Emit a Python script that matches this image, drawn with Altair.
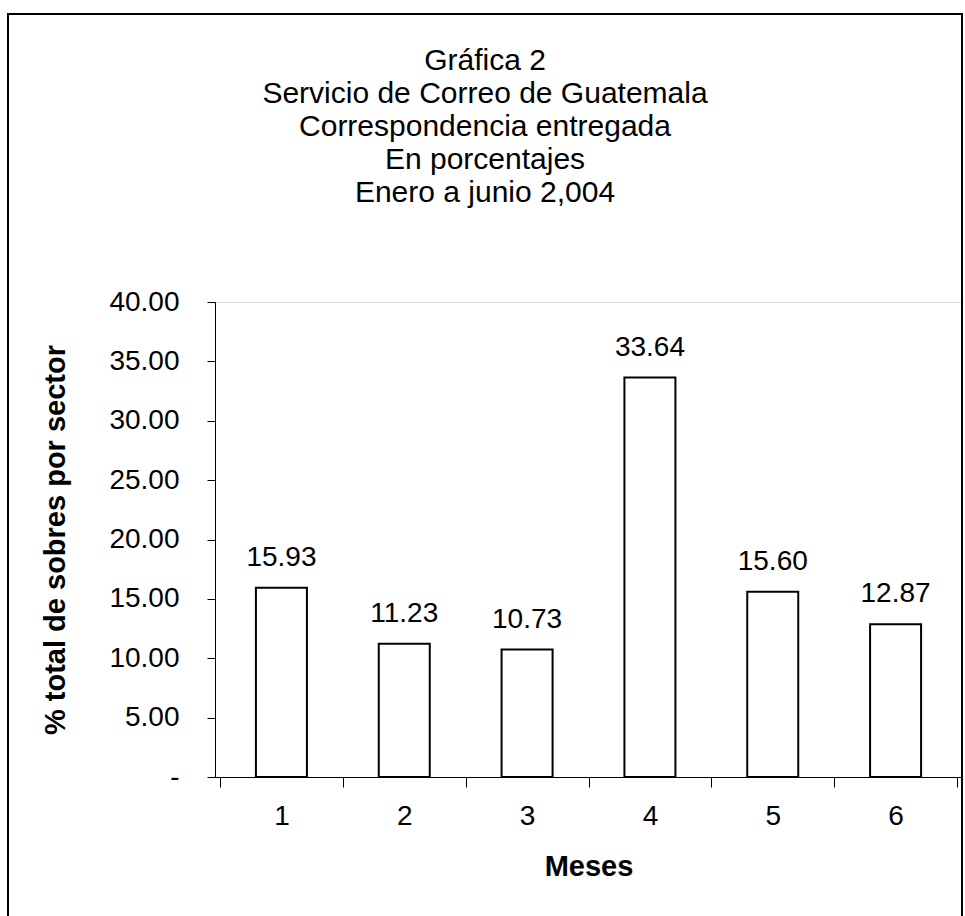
import altair as alt
import pandas as pd

# Monthly share of delivered mail, January to June 2004
meses = [1, 2, 3, 4, 5, 6]
porcentajes = [15.93, 11.23, 10.73, 33.64, 15.60, 12.87]

titulo = [
    "Gráfica 2",
    "Servicio de Correo de Guatemala",
    "Correspondencia entregada",
    "En porcentajes",
    "Enero a junio 2,004",
]

df = pd.DataFrame({"mes": meses, "pct": porcentajes})
one = pd.DataFrame({"k": [0]})

FONT = "Liberation Sans"

x_enc = alt.X(
    "mes:Q",
    scale=alt.Scale(domain=[0.5, 6.5], nice=False, zero=False),
    axis=alt.Axis(
        title="Meses",
        values=[0.5, 1, 1.5, 2, 2.5, 3, 3.5, 4, 4.5, 5, 5.5, 6, 6.5],
        labelExpr="datum.value % 1 === 0 ? datum.value : ''",
        tickOpacity=alt.expr("datum.value % 1 === 0 ? 0 : 1"),
        grid=False,
        tickSize=10,
        tickColor="black",
        domainColor="black",
        labelFontSize=28,
        labelFont=FONT,
        labelColor="black",
        labelPadding=15,
        titleFontSize=29,
        titleFont=FONT,
        titleFontWeight="bold",
        titleColor="black",
        titlePadding=22,
    ),
)

y_enc = alt.Y(
    "pct:Q",
    scale=alt.Scale(domain=[0, 40], nice=False),
    axis=alt.Axis(
        title="% total de sobres por sector",
        values=[0, 5, 10, 15, 20, 25, 30, 35, 40],
        labelExpr="datum.value === 0 ? '-' : format(datum.value, '.2f')",
        grid=False,
        tickSize=8,
        tickColor="black",
        domainColor="black",
        labelFontSize=28,
        labelFont=FONT,
        labelColor="black",
        labelPadding=28,
        titleFontSize=29,
        titleFont=FONT,
        titleFontWeight="bold",
        titleColor="black",
        titlePadding=38,
    ),
)

bars = alt.Chart(df).mark_bar(
    width=51, fill="white", stroke="black", strokeWidth=2
).encode(x=x_enc, y=y_enc)

labels = alt.Chart(df).mark_text(
    baseline="bottom", dy=-16, fontSize=28, font=FONT, color="black"
).encode(x="mes:Q", y="pct:Q", text=alt.Text("pct:Q", format=".2f"))

# outer frame around the whole figure
frame = alt.Chart(one).mark_rect(
    fill=None, stroke="black", strokeWidth=2, clip=False
).encode(
    x=alt.value(-207), x2=alt.value(747), y=alt.value(-288), y2=alt.value(625)
)

# five-line heading centred on the frame
heading = alt.Chart(one).mark_text(
    text=titulo,
    fontSize=30,
    font=FONT,
    color="black",
    align="center",
    baseline="top",
    lineHeight=33,
).encode(x=alt.value(270), y=alt.value(-256))

chart = (
    alt.layer(frame, bars, labels, heading)
    .properties(
        width=747,
        height=475,
        autosize=alt.AutoSizeParams(type="none"),
        padding={"left": 215, "top": 302, "right": 3, "bottom": 139},
    )
    .configure_view(stroke="#808080", strokeWidth=1)
    .configure(background="white")
)

chart.save("out.html", embed_options={"renderer": "svg", "actions": False})
